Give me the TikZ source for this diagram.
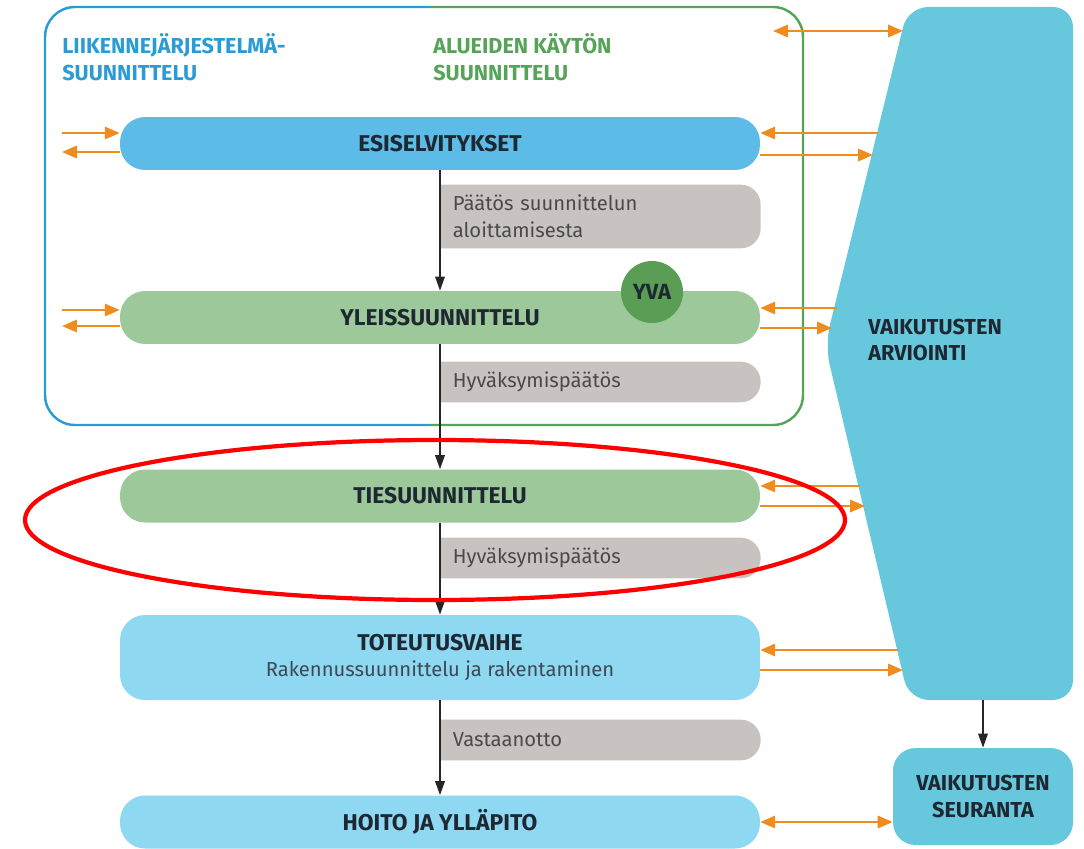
\documentclass[tikz,border=0pt]{standalone}
\usepackage{fontspec}
\setmainfont{Fira Sans}
\usetikzlibrary{arrows.meta,backgrounds}

\definecolor{tlblue}{HTML}{2A9BD5}
\definecolor{algreen}{HTML}{55A457}
\definecolor{barblue}{HTML}{5DBBE8}
\definecolor{bargreen}{HTML}{9DC99A}
\definecolor{barlight}{HTML}{8ED8F2}
\definecolor{notegray}{HTML}{C8C3C1}
\definecolor{notetext}{HTML}{4A4A4A}
\definecolor{yvagreen}{HTML}{5A9E55}
\definecolor{vaikblue}{HTML}{67C8DD}
\definecolor{arrorange}{HTML}{F08C1E}
\definecolor{txtdark}{HTML}{1E2833}

\begin{document}
\begin{tikzpicture}[x=0.02cm,y=-0.02cm,
  bar/.style={fill=#1, rounded corners=0.5cm, minimum width=12.8cm, minimum height=1.06cm, inner sep=0pt, align=center, text=txtdark, font=\bfseries\fontsize{13}{14.5}\selectfont},
  note/.style={anchor=west, minimum width=6.4cm, minimum height=#1, text width=5.9cm, inner xsep=0.25cm, inner ysep=0pt, align=left, text=notetext, font=\fontsize{11.5}{15.3}\selectfont},
  head/.style={anchor=west, align=left, inner sep=0pt, text=#1, font=\bfseries\fontsize{12.3}{15.3}\selectfont},
  flow/.style={draw=black!85, line width=0.8pt, -{Triangle[length=8pt,width=5.5pt]}},
  oarr/.style={draw=arrorange, line width=1.3pt, -{Triangle[length=8.5pt,width=7pt]}},
  obiarr/.style={draw=arrorange, line width=1.3pt, {Triangle[length=8.5pt,width=7pt]}-{Triangle[length=8.5pt,width=7pt]}}
]
\useasboundingbox (0,0) rectangle (1084,848);

\coordinate (V1) at (908,7);
\coordinate (V2) at (1073,7);
\coordinate (V3) at (1073,700);
\coordinate (V4) at (909,700);
\coordinate (V5) at (825,345);
\coordinate (VB) at (983,700);

\draw[tlblue, line width=1.4pt, rounded corners=0.6cm] (430,7) -- (45,7) -- (45,425) -- (430,425);
\draw[algreen, line width=1.4pt, rounded corners=0.6cm] (430,7) -- (803,7) -- (803,425) -- (430,425);

\fill[vaikblue, rounded corners=0.4cm] (V1) -- (V2) -- (V3) -- (V4) -- (V5) -- cycle;

\node[head=tlblue] (LJS) at (62,57.5) {LIIKENNEJÄRJESTELMÄ-\\SUUNNITTELU};
\node[head=algreen] (AKS) at (433,57.5) {ALUEIDEN KÄYTÖN\\SUUNNITTELU};

\node[bar=barblue]  (ESI) at (440,143.5) {ESISELVITYKSET};
\node[bar=bargreen] (YLE) at (440,317.5) {YLEISSUUNNITTELU};
\node[bar=bargreen] (TIE) at (440,496)   {TIESUUNNITTELU};
\node[bar=barlight, minimum height=1.7cm] (TOT) at (440,657.5) {TOTEUTUSVAIHE\\{\mdseries\fontsize{11.5}{14}\selectfont\color{txtdark!85}Rakennussuunnittelu ja rakentaminen}};
\node[bar=barlight] (HOI) at (440,822) {HOITO JA YLLÄPITO};

\node[note=1.26cm] (PAA)  at (440,216.5) {Päätös suunnittelun\\aloittamisesta};
\node[note=0.8cm]  (HYV1) at (440,382)   {Hyväksymispäätös};
\node[note=0.8cm]  (HYV2) at (440,558)   {Hyväksymispäätös};
\node[note=0.8cm]  (VAS)  at (440,740)   {Vastaanotto};

\begin{scope}[on background layer]
\foreach \n in {PAA,HYV1,HYV2,VAS}
  \fill[notegray] (\n.south west) -- (\n.north west) -- ([xshift=-0.4cm]\n.north east) arc[start angle=90,end angle=0,radius=0.4cm] -- ([yshift=0.4cm]\n.south east) arc[start angle=0,end angle=-90,radius=0.4cm] -- cycle;
\end{scope}

\node[circle, fill=yvagreen, minimum size=1.24cm, inner sep=0pt, text=txtdark, font=\bfseries\fontsize{12.5}{15}\selectfont] (YVA) at (652,292) {YVA};

\node[head=txtdark] (ARV) at (868,340) {VAIKUTUSTEN\\ARVIOINTI};
\node[fill=vaikblue, rounded corners=0.45cm, minimum width=3.6cm, minimum height=1.94cm, align=center, text=txtdark, font=\bfseries\fontsize{12.3}{15.3}\selectfont] (SEU) at (983,796.5) {VAIKUTUSTEN\\SEURANTA};

\draw[flow] (ESI) -- (YLE);
\draw[flow] (YLE) -- (TIE);
\draw[flow] (TIE) -- (TOT);
\draw[flow] (TOT) -- (HOI);
\draw[flow] (VB) -- (SEU);

\coordinate (L1) at (62,133);
\coordinate (L2) at (62,152);
\coordinate (L3) at (62,310);
\coordinate (L4) at (62,326);
\coordinate (R1) at (878,133);
\coordinate (R2) at (873,155);
\coordinate (R3) at (837,308);
\coordinate (R4) at (832,328);
\coordinate (R5) at (860,486);
\coordinate (R6) at (865,506);
\coordinate (R7) at (898,650);
\coordinate (R8) at (903,670);
\coordinate (T1) at (773,31);
\coordinate (T2) at (903,31);

\draw[oarr] (L1) -- (L1 -| ESI.west);
\draw[oarr] (L2 -| ESI.west) -- (L2);
\draw[oarr] (L3) -- (L3 -| YLE.west);
\draw[oarr] (L4 -| YLE.west) -- (L4);
\draw[oarr] (R1) -- (R1 -| ESI.east);
\draw[oarr] (R2 -| ESI.east) -- (R2);
\draw[oarr] (R3) -- (R3 -| YLE.east);
\draw[oarr] (R4 -| YLE.east) -- (R4);
\draw[oarr] (R5) -- (R5 -| TIE.east);
\draw[oarr] (R6 -| TIE.east) -- (R6);
\draw[oarr] (R7) -- (R7 -| TOT.east);
\draw[oarr] (R8 -| TOT.east) -- (R8);
\draw[obiarr] (T1) -- (T2);
\draw[obiarr] (HOI.east) -- (HOI.east -| SEU.west);

\draw[red, line width=2.4pt] (435,520) ellipse [x radius=410, y radius=80];

\end{tikzpicture}
\end{document}
